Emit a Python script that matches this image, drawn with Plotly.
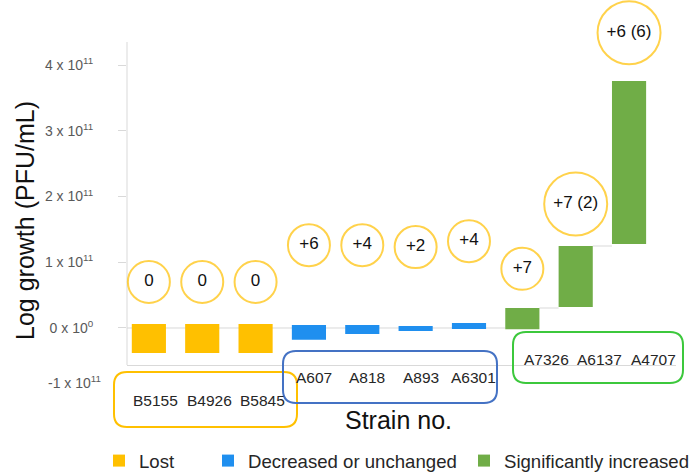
import plotly.graph_objects as go

# ---------------- data ----------------
strains = ["B5155", "B4926", "B5845", "A607", "A818", "A893", "A6301", "A7326", "A6137", "A4707"]
group_names = ["Lost", "Decreased or unchanged", "Significantly increased"]
strain_group = [0, 0, 0, 1, 1, 1, 1, 2, 2, 2]
# floating bar extents, in units of 1e11 PFU/mL
bar_base = [-0.38, -0.38, -0.38, -0.18, -0.09, -0.046, -0.015, -0.02, 0.32, 1.278]
bar_top = [0.061, 0.061, 0.061, 0.046, 0.046, 0.030, 0.076, 0.304, 1.247, 3.757]
badge_text = ["0", "0", "0", "+6", "+4", "+2", "+4", "+7", "+7 (2)", "+6 (6)"]
tick_values = [-1, 0, 1, 2, 3, 4]
tick_text = ["-1 x 10<sup>11</sup>", "0 x 10<sup>0</sup>", "1 x 10<sup>11</sup>",
             "2 x 10<sup>11</sup>", "3 x 10<sup>11</sup>", "4 x 10<sup>11</sup>"]
SCALE = 1e11

# ---------------- style / layout ----------------
FONT = "Liberation Sans, Arial, sans-serif"
bar_colors = ["#FFC000", "#1F8FEF", "#70AD47"]
box_colors = ["#FFC000", "#4472C4", "#3CC83C"]
badge_color = "#FFC000"
badge_y = [0.70, 0.70, 0.70, 1.26, 1.26, 1.23, 1.32, 0.90, 1.886, 4.49]  # label heights (1e11)
badge_size = [42, 42, 42, 42, 42, 42, 42, 42, 63, 63]
BAR_W = 0.64

W, H = 693, 474
L, R, T, B = 127, 17, 8, 109
PW, PH = W - L - R, H - T - B
YMIN, YMAX = -0.563, 4.867
AXIS_TOP = 4.35          # where the drawn y-axis line stops
XMIN, XMAX = -0.41, 9.88


def px(p):  # pixel x -> paper
    return (p - L) / PW


def py(p):  # pixel y -> paper
    return (H - B - p) / PH


fig = go.Figure()

# bars, one trace per group
for g, name in enumerate(group_names):
    idx = [i for i, s in enumerate(strain_group) if s == g]
    fig.add_trace(go.Bar(
        x=idx,
        y=[(bar_top[i] - bar_base[i]) * SCALE for i in idx],
        base=[bar_base[i] * SCALE for i in idx],
        width=BAR_W,
        marker=dict(color=bar_colors[g], line=dict(width=0)),
        name=name,
        legend="legend" if g == 0 else "legend%d" % (g + 1),
        hoverinfo="skip",
    ))

# badges (circled labels)
fig.add_trace(go.Scatter(
    x=list(range(len(strains))),
    y=[v * SCALE for v in badge_y],
    mode="markers+text",
    text=badge_text,
    textposition="middle center",
    textfont=dict(family=FONT, size=17, color="#111111"),
    marker=dict(size=badge_size, color="white", line=dict(color=badge_color, width=2)),
    cliponaxis=False,
    showlegend=False,
    hoverinfo="skip",
))

shapes = []
# y-axis line
shapes.append(dict(type="line", xref="paper", yref="y", layer="below",
                   x0=0, x1=0, y0=YMIN * SCALE, y1=AXIS_TOP * SCALE,
                   line=dict(color="#d9d9d9", width=1)))
# waterfall connectors from data
first_inc = strain_group.index(2)
shapes.append(dict(type="line", xref="x", yref="y", layer="below",
                   x0=XMIN, x1=first_inc - BAR_W / 2, y0=0, y1=0,
                   line=dict(color="#d9d9d9", width=1)))
for i in range(first_inc, len(strains) - 1):
    shapes.append(dict(type="line", xref="x", yref="y", layer="below",
                       x0=i + BAR_W / 2, x1=i + 1 - BAR_W / 2,
                       y0=bar_top[i] * SCALE, y1=bar_top[i] * SCALE,
                       line=dict(color="#d9d9d9", width=1)))


def rounded_box(x0, y0, x1, y1, r):
    pts = [("M", (x0 + r, y0)), ("L", (x1 - r, y0)), ("Q", (x1, y0), (x1, y0 + r)),
           ("L", (x1, y1 - r)), ("Q", (x1, y1), (x1 - r, y1)), ("L", (x0 + r, y1)),
           ("Q", (x0, y1), (x0, y1 - r)), ("L", (x0, y0 + r)), ("Q", (x0, y0), (x0 + r, y0))]
    out = []
    for item in pts:
        cmd = item[0]
        coords = " ".join("%.5f,%.5f" % (px(a), py(b)) for a, b in item[1:])
        out.append(cmd + coords)
    return " ".join(out) + " Z"


box_pixels = [(114, 372, 297, 427), (283, 351, 497, 403), (513, 332, 683, 383)]
for g, (x0, y0, x1, y1) in enumerate(box_pixels):
    shapes.append(dict(type="path", xref="paper", yref="paper", layer="above",
                       path=rounded_box(x0, y0, x1, y1, 13),
                       line=dict(color=box_colors[g], width=2)))

annotations = []
label_pixel_y = [400, 377, 359]
label_shift = [7, 5, 24]
for i, s in enumerate(strains):
    g = strain_group[i]
    annotations.append(dict(x=i, xref="x", y=py(label_pixel_y[g]), yref="paper",
                            text=s, showarrow=False, xshift=label_shift[g],
                            xanchor="center", yanchor="middle",
                            font=dict(family=FONT, size=15.5, color="#262626")))

# tick labels below the axis range
for v, t in zip(tick_values, tick_text):
    if v < YMIN:
        annotations.append(dict(x=px(103), xref="paper", y=py(382), yref="paper",
                                text=t, showarrow=False, xanchor="right", yanchor="middle",
                                font=dict(family=FONT, size=14, color="#595959")))

annotations.append(dict(x=px(25), y=py(221), xref="paper", yref="paper",
                        text="Log growth (PFU/mL)", textangle=-90, showarrow=False,
                        xanchor="center", yanchor="middle",
                        font=dict(family=FONT, size=25, color="#111111")))
annotations.append(dict(x=px(398), y=py(420), xref="paper", yref="paper",
                        text="Strain no.", showarrow=False,
                        xanchor="center", yanchor="middle",
                        font=dict(family=FONT, size=25, color="#111111")))

in_range = [(v * SCALE, t) for v, t in zip(tick_values, tick_text) if YMIN <= v <= AXIS_TOP]

legend_common = dict(orientation="h", yanchor="middle", xanchor="left",
                     y=py(461), bgcolor="rgba(0,0,0,0)",
                     font=dict(family=FONT, size=18.6, color="#262626"))

fig.update_layout(
    width=W, height=H,
    margin=dict(l=L, r=R, t=T, b=B, pad=0, autoexpand=False),
    paper_bgcolor="white", plot_bgcolor="white",
    font=dict(family=FONT),
    barmode="overlay",
    shapes=shapes,
    annotations=annotations,
    legend=dict(x=px(99), **legend_common),
    legend2=dict(x=px(208), **legend_common),
    legend3=dict(x=px(464), **legend_common),
    xaxis=dict(range=[XMIN, XMAX], showline=True, linecolor="#d9d9d9", linewidth=1,
               showgrid=False, zeroline=False, showticklabels=False, ticks=""),
    yaxis=dict(range=[YMIN * SCALE, YMAX * SCALE],
               tickvals=[a for a, _ in in_range], ticktext=[b for _, b in in_range],
               showline=False,
               ticks="outside", ticklen=8, tickcolor="#d9d9d9",
               showgrid=False, zeroline=False, ticklabelstandoff=22,
               tickfont=dict(family=FONT, size=14, color="#595959")),
)

fig.write_html("out.html", config={"displayModeBar": False},
               post_script="document.body.style.margin='0px';")
